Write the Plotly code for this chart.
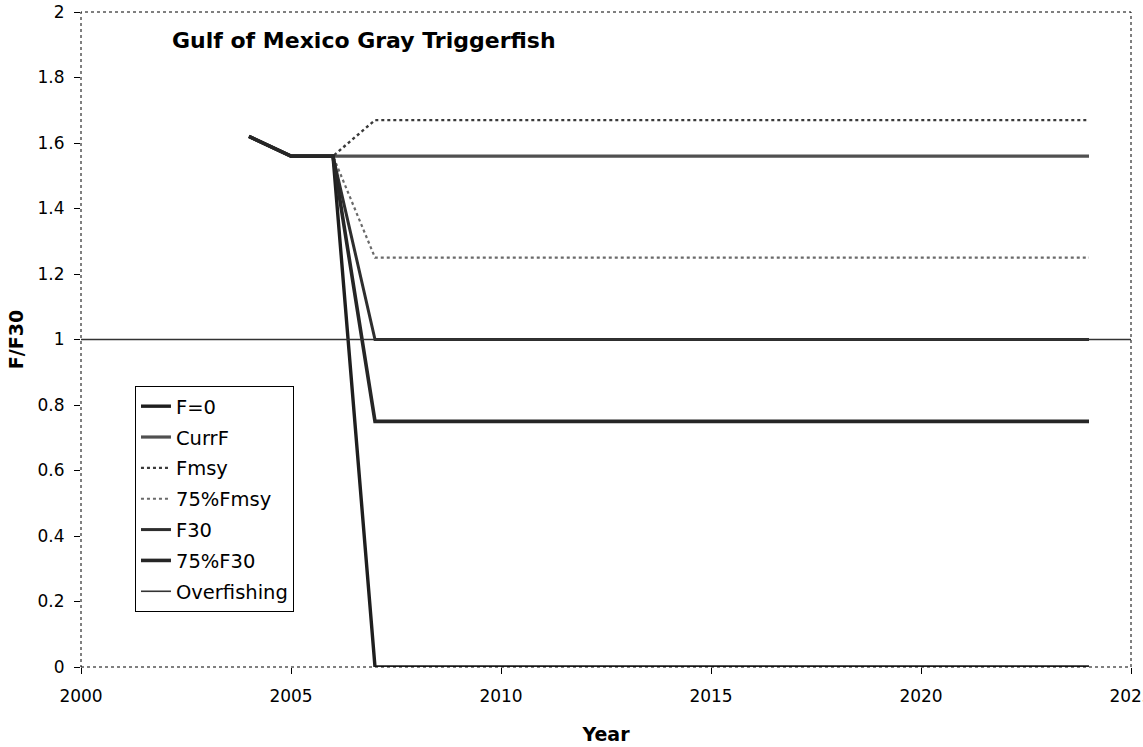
import plotly.graph_objects as go

years = list(range(2004, 2025))
n_proj = len(years) - 3  # years 2007..2024

series_names = ["F=0", "CurrF", "Fmsy", "75%Fmsy", "F30", "75%F30"]
hist = [1.62, 1.56, 1.56]
f0 = hist + [0.0] * n_proj
currf = hist + [1.56] * n_proj
fmsy = hist + [1.67] * n_proj
f75msy = hist + [1.25] * n_proj
f30 = hist + [1.0] * n_proj
f75_30 = hist + [0.75] * n_proj

overfish_x = [2000, 2025]
overfish_y = [1.0, 1.0]

styles = {
    "F=0": dict(color="#1e1e1e", width=3.4, dash="solid"),
    "CurrF": dict(color="#505050", width=3.2, dash="solid"),
    "Fmsy": dict(color="#3a3a3a", width=2.4, dash="dot"),
    "75%Fmsy": dict(color="#6a6a6a", width=2.2, dash="dot"),
    "F30": dict(color="#2e2e2e", width=3, dash="solid"),
    "75%F30": dict(color="#262626", width=3.6, dash="solid"),
    "Overfishing": dict(color="#333333", width=1.6, dash="solid"),
}

fig = go.Figure()
data_map = {"F=0": f0, "CurrF": currf, "Fmsy": fmsy, "75%Fmsy": f75msy,
            "F30": f30, "75%F30": f75_30}
for name in series_names:
    fig.add_trace(go.Scatter(x=years, y=data_map[name], mode="lines", name=name,
                             legendgroup=name, line=styles[name]))
fig.add_trace(go.Scatter(x=overfish_x, y=overfish_y, mode="lines", name="Overfishing",
                         legendgroup="Overfishing", line=styles["Overfishing"]))

font_family = "DejaVu Sans, sans-serif"

fig.update_layout(
    width=1143, height=747,
    margin=dict(l=81, r=12, t=12, b=80, autoexpand=False),
    paper_bgcolor="white", plot_bgcolor="white",
    font=dict(family=font_family, size=17, color="black"),
    showlegend=True,
    legend=dict(x=0.0514, y=0.429, xanchor="left", yanchor="top",
                bgcolor="white", bordercolor="black", borderwidth=1,
                font=dict(size=19.5), tracegroupgap=2.5, itemwidth=30),
    xaxis=dict(range=[2000, 2025], tickvals=[2000, 2005, 2010, 2015, 2020, 2025],
               showgrid=False, zeroline=False, showline=False, automargin=False,
               ticks="outside", ticklen=6, tickcolor="black",
               ticklabelstandoff=8, ticklabeloverflow="allow",
               title=dict(text="<b>Year</b>", font=dict(size=19), standoff=22)),
    yaxis=dict(range=[0, 2], tickvals=[0, 0.2, 0.4, 0.6, 0.8, 1, 1.2, 1.4, 1.6, 1.8, 2],
               ticktext=["0", "0.2", "0.4", "0.6", "0.8", "1", "1.2", "1.4", "1.6", "1.8", "2"],
               showgrid=False, zeroline=False, showline=False, automargin=False,
               ticks="outside", ticklen=6, tickcolor="black",
               ticklabelstandoff=6,
               title=dict(text="<b>F/F30</b>", font=dict(size=19), standoff=8)),
    shapes=[dict(type="rect", xref="paper", yref="paper", x0=0, x1=1, y0=0, y1=1,
                 line=dict(color="black", width=1, dash="dot"), layer="above")],
    annotations=[dict(text="<b>Gulf of Mexico Gray Triggerfish</b>", xref="paper", yref="paper",
                      x=0.085, y=0.957, xanchor="left", yanchor="middle",
                      showarrow=False, font=dict(size=22))],
)

fig.write_html("out.html")
